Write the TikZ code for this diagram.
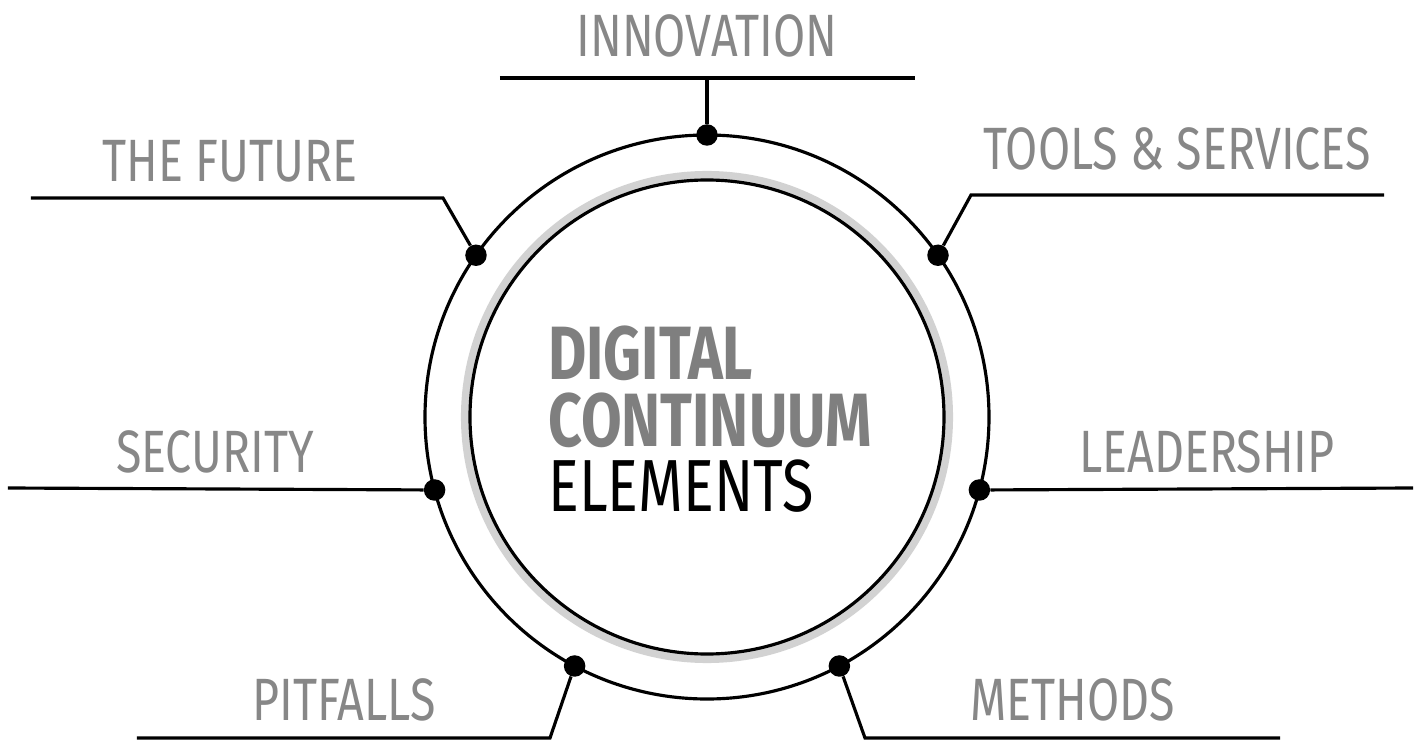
\documentclass[tikz,border=0pt]{standalone}
\usepackage{fontspec}
\setmainfont{Fira Sans}
\newfontfamily\narrowfont[FakeStretch=0.78]{Fira Sans}
\definecolor{labelgray}{HTML}{878787}
\definecolor{titlegray}{HTML}{7F7F7F}
\definecolor{ringgray}{HTML}{D2D2D2}

\begin{document}
\begin{tikzpicture}[x=0.02cm, y=0.02cm]
  % Define styles
  \tikzstyle{ring}=[draw=black, line width=1.8pt]
  \tikzstyle{halo}=[draw=ringgray, line width=4.6pt]
  \tikzstyle{dot}=[circle, fill=black, minimum size=0.43cm, inner sep=0pt]
  \tikzstyle{leader}=[draw=black, line width=1.8pt]
  \tikzstyle{label}=[anchor=base, inner sep=0pt, text height=24pt, text depth=0pt, text=labelgray, font=\narrowfont\fontsize{34}{34}\selectfont]
  \tikzstyle{title}=[anchor=base west, inner sep=0pt, text height=29pt, text depth=0pt, font=\narrowfont\fontsize{42}{42}\selectfont]

  \useasboundingbox (-707,417) rectangle (712,-323);

  % Circles
  \draw[halo] (0,0) circle (242);
  \draw[ring] (0,0) circle (237);
  \draw[ring] (0,0) circle (282);

  % Dots on the outer circle
  \node[dot] (innovation) at (90:282) {};
  \node[dot] (tools) at (35:282) {};
  \node[dot] (future) at (145:282) {};
  \node[dot] (leadership) at (-15:282) {};
  \node[dot] (security) at (195:282) {};
  \node[dot] (methods) at (-62:282) {};
  \node[dot] (pitfalls) at (-118:282) {};

  % Leader bends and ends
  \coordinate (innovationtop) at (0,339);
  \coordinate (innovationleft) at (-207,339);
  \coordinate (innovationright) at (208,339);
  \coordinate (toolsbend) at (264,222);
  \coordinate (toolsend) at (677,222);
  \coordinate (futurebend) at (-264,219);
  \coordinate (futureend) at (-676,219);
  \coordinate (leadershipend) at (706,-71);
  \coordinate (securityend) at (-699,-71);
  \coordinate (methodsbend) at (158,-321);
  \coordinate (methodsend) at (573,-321);
  \coordinate (pitfallsbend) at (-157,-321);
  \coordinate (pitfallsend) at (-570,-321);

  % Leaders
  \draw[leader] (innovation) -- (innovationtop);
  \draw[leader] (innovationleft) -- (innovationright);
  \draw[leader] (tools) -- (toolsbend) -- (toolsend);
  \draw[leader] (future) -- (futurebend) -- (futureend);
  \draw[leader] (leadership) -- (leadershipend);
  \draw[leader] (security) -- (securityend);
  \draw[leader] (methods) -- (methodsbend) -- (methodsend);
  \draw[leader] (pitfalls) -- (pitfallsbend) -- (pitfallsend);

  % Labels
  \node[label] (innovationtext) at (0,360) {INNOVATION};
  \node[label] (toolstext) at (470,247) {TOOLS \& SERVICES};
  \node[label] (futuretext) at (-477,235) {THE FUTURE};
  \node[label] (leadershiptext) at (500,-55) {LEADERSHIP};
  \node[label] (securitytext) at (-492,-55) {SECURITY};
  \node[label] (methodstext) at (366,-303) {METHODS};
  \node[label] (pitfallstext) at (-363,-303) {PITFALLS};

  % Centre title
  \node[title, text=titlegray, font=\narrowfont\bfseries\fontsize{43}{43}\selectfont] (digital) at (-159,37) {DIGITAL};
  \node[title, text=titlegray, font=\narrowfont\bfseries\fontsize{43}{43}\selectfont] (continuum) at (-159,-30) {CONTINUUM};
  \node[title, text=black] (elements) at (-159,-94) {ELEMENTS};
\end{tikzpicture}
\end{document}
